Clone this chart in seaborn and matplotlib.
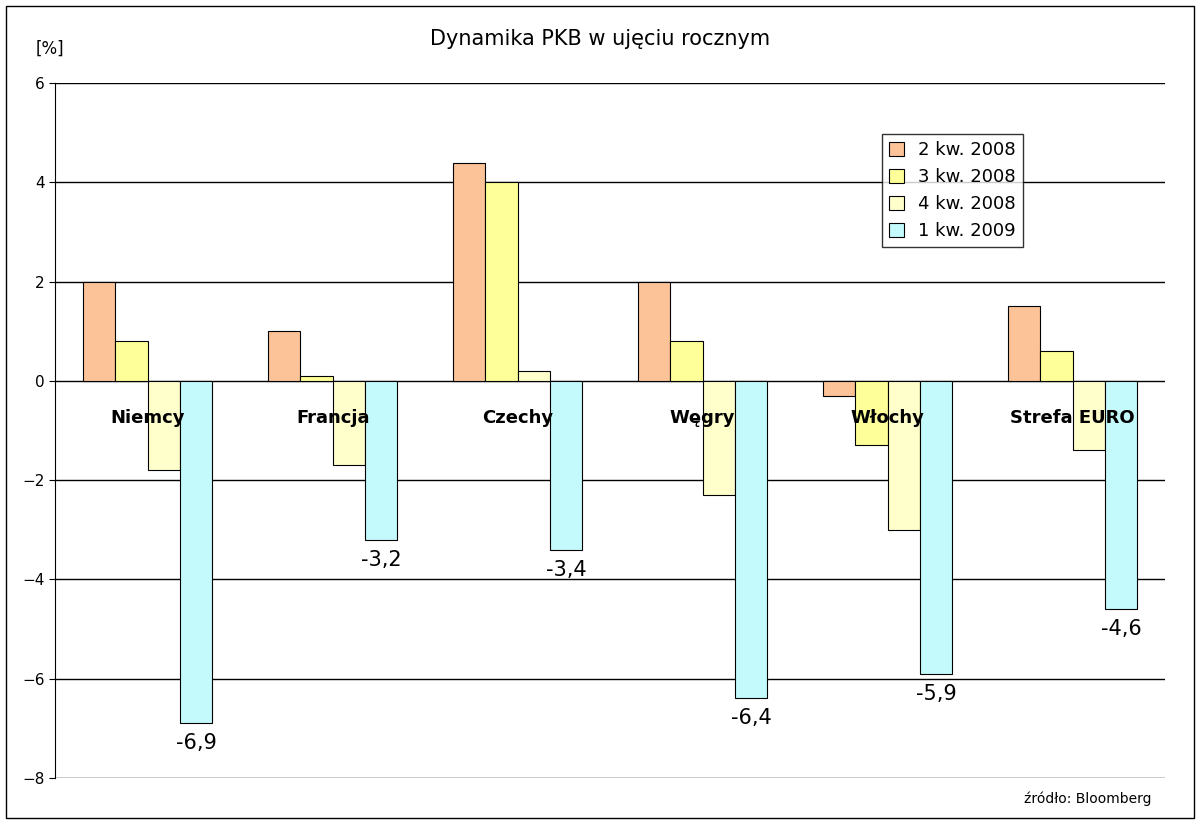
import pandas as pd
import seaborn as sns
import matplotlib.pyplot as plt
from matplotlib.patches import Rectangle

# data
countries = ["Niemcy", "Francja", "Czechy", "Węgry", "Włochy", "Strefa EURO"]
quarters = ["2 kw. 2008", "3 kw. 2008", "4 kw. 2008", "1 kw. 2009"]
q2_2008 = [2.0, 1.0, 4.4, 2.0, -0.3, 1.5]
q3_2008 = [0.8, 0.1, 4.0, 0.8, -1.3, 0.6]
q4_2008 = [-1.8, -1.7, 0.2, -2.3, -3.0, -1.4]
q1_2009 = [-6.9, -3.2, -3.4, -6.4, -5.9, -4.6]
label_text = ["-6,9", "-3,2", "-3,4", "-6,4", "-5,9", "-4,6"]

rows = []
for q, vals in zip(quarters, [q2_2008, q3_2008, q4_2008, q1_2009]):
    for c, v in zip(countries, vals):
        rows.append({"kraj": c, "kwartal": q, "wartosc": v})
df = pd.DataFrame(rows)

colors = ["#FCC398", "#FFFF99", "#FFFFCC", "#C4FAFC"]

fig = plt.figure(figsize=(12, 8.24), dpi=100)
ax = fig.add_axes([0.046, 0.056, 0.925, 0.843])
sns.barplot(data=df, x="kraj", y="wartosc", hue="kwartal", hue_order=quarters,
            palette=colors, edgecolor="black", linewidth=0.8, width=0.7,
            saturation=1, ax=ax, zorder=3)

ax.set_ylim(-8, 6)
ax.set_yticks(range(-8, 7, 2))
ax.tick_params(axis="y", labelsize=11, length=4)
ax.set_xticks([])
ax.set_xlabel("")
ax.set_ylabel("")
ax.grid(axis="y", color="black", linewidth=1, zorder=0)
for s in ["top", "right", "bottom"]:
    ax.spines[s].set_visible(False)

# country names inside the plot
for i, c in enumerate(countries):
    ax.text(i, -0.75, c, ha="center", va="center", fontsize=13,
            fontweight="bold", zorder=5)

# labels for the last series
last = ax.containers[3]
for bar, t in zip(last, label_text):
    ax.text(bar.get_x() + bar.get_width() / 2, bar.get_height() - 0.2, t,
            ha="center", va="top", fontsize=15, zorder=5)

leg = ax.legend(loc="upper right", bbox_to_anchor=(0.88, 0.94), fontsize=13,
                frameon=True, fancybox=False, edgecolor="black",
                handlelength=0.8, handleheight=0.8)
leg.get_frame().set_linewidth(1)

fig.text(0.5, 0.945, "Dynamika PKB w ujęciu rocznym", ha="center", fontsize=15)
fig.text(0.03, 0.935, "[%]", fontsize=12)
fig.text(0.96, 0.025, "źródło: Bloomberg", ha="right", fontsize=10)
fig.patches.append(Rectangle((0.005, 0.007), 0.99, 0.986, transform=fig.transFigure,
                             fill=False, edgecolor="black", linewidth=1))

fig.savefig("out.png", dpi=100)
